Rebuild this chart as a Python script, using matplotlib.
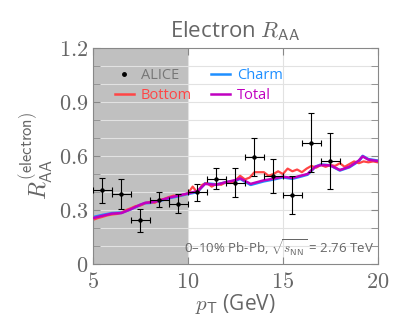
import matplotlib
matplotlib.use("Agg")
import matplotlib.pyplot as plt
import matplotlib.ticker as ticker
from matplotlib.lines import Line2D
import numpy as np

plt.rcParams['font.family'] = ['Open Sans', 'DejaVu Sans']
plt.rcParams['mathtext.fontset'] = 'cm'

# ALICE data
alice_pt = [5.5, 6.5, 7.5, 8.5, 9.5, 10.5, 11.5, 12.5, 13.5, 14.5, 15.5, 16.5, 17.5]
alice_raa = [0.41, 0.387, 0.243, 0.356, 0.335, 0.398, 0.474, 0.452, 0.593, 0.489, 0.383, 0.674, 0.574]
alice_yerr = [0.07, 0.083, 0.065, 0.042, 0.053, 0.046, 0.057, 0.079, 0.105, 0.094, 0.105, 0.164, 0.155]
alice_xerr = [0.5] * 13

# model curves
total_pt = [5.0, 5.5, 6.0, 6.5, 7.0, 7.5, 7.75, 8.0, 8.5, 9.0, 9.5, 10.0, 10.5, 10.9, 11.5,
            12.0, 12.5, 12.75, 13.0, 13.3, 14.0, 14.5, 15.0, 15.5, 16.0, 16.3, 16.7, 17.0,
            17.5, 18.0, 18.5, 19.0, 19.2, 19.5, 20.0]
total_raa = [0.255, 0.268, 0.280, 0.283, 0.305, 0.330, 0.340, 0.342, 0.352, 0.368, 0.380, 0.392,
             0.405, 0.445, 0.440, 0.455, 0.466, 0.476, 0.462, 0.445, 0.465, 0.474, 0.485, 0.478,
             0.492, 0.500, 0.540, 0.550, 0.548, 0.522, 0.540, 0.575, 0.598, 0.580, 0.572]
charm_raa = [0.260, 0.272, 0.282, 0.285, 0.305, 0.328, 0.338, 0.340, 0.350, 0.366, 0.377, 0.390,
             0.400, 0.448, 0.442, 0.453, 0.462, 0.474, 0.458, 0.440, 0.460, 0.470, 0.482, 0.474,
             0.488, 0.497, 0.540, 0.552, 0.548, 0.520, 0.538, 0.572, 0.600, 0.582, 0.574]
bottom_pt = [5.0, 5.25, 5.5, 5.75, 6.0, 6.25, 6.5, 6.75, 7.0, 7.25, 7.5, 7.75, 8.0, 8.25, 8.5,
             8.75, 9.0, 9.25, 9.5, 9.75, 10.0, 10.25, 10.5, 10.75, 11.0, 11.25, 11.5, 11.75,
             12.0, 12.25, 12.5, 12.75, 13.0, 13.25, 13.5, 13.75, 14.0, 14.25, 14.5, 14.75,
             15.0, 15.25, 15.5, 15.75, 16.0, 16.25, 16.5, 16.75, 17.0, 17.25, 17.5, 17.75,
             18.0, 18.25, 18.5, 18.75, 19.0, 19.25, 19.5, 19.75, 20.0]
bottom_raa = [0.245, 0.255, 0.262, 0.270, 0.275, 0.278, 0.285, 0.300, 0.310, 0.322, 0.325,
              0.338, 0.345, 0.340, 0.355, 0.362, 0.372, 0.380, 0.378, 0.385, 0.392, 0.430,
              0.395, 0.440, 0.450, 0.430, 0.445, 0.440, 0.455, 0.450, 0.465, 0.490, 0.470,
              0.480, 0.510, 0.510, 0.510, 0.490, 0.500, 0.515, 0.500, 0.530, 0.515, 0.525,
              0.510, 0.530, 0.545, 0.535, 0.550, 0.540, 0.550, 0.545, 0.560, 0.540, 0.555,
              0.570, 0.560, 0.570, 0.565, 0.570, 0.565]

gray = '#666666'
c_red, c_blue, c_mag = '#ff4545', '#1e8fff', '#c000c0'

fig = plt.figure(figsize=(3.94, 3.30), dpi=100)
ax = fig.add_axes([0.236, 0.2, 0.723, 0.6545])

ax.axvspan(5, 10, color='#c0c0c0', zorder=0, lw=0)
for y in np.arange(0.1, 1.2, 0.1):
    ax.axhline(y, color='#e2e2e2', lw=0.8, zorder=0.5)
for x in [10, 15]:
    ax.axvline(x, color='#e2e2e2', lw=0.8, zorder=0.5)

ax.plot(total_pt, charm_raa, color=c_blue, lw=2, zorder=2)
ax.plot(bottom_pt, bottom_raa, color=c_red, lw=1.6, zorder=2.5)
ax.plot(total_pt, total_raa, color=c_mag, lw=1.8, zorder=3)
ax.errorbar(alice_pt, alice_raa, xerr=alice_xerr, yerr=alice_yerr, fmt='o', color='black',
            ms=2.2, elinewidth=0.8, capsize=2, capthick=0.8, zorder=4)

ax.set_xlim(5, 20)
ax.set_ylim(0, 1.2)
ax.xaxis.set_major_locator(ticker.MultipleLocator(5))
ax.yaxis.set_major_locator(ticker.MultipleLocator(0.3))
ax.yaxis.set_minor_locator(ticker.MultipleLocator(0.1))
ax.xaxis.set_major_formatter(ticker.FuncFormatter(lambda v, p: '$%d$' % v))
ax.yaxis.set_major_formatter(ticker.FuncFormatter(lambda v, p: '$0$' if v == 0 else '$%.1f$' % v))
ax.tick_params(which='both', direction='in', top=True, right=True, colors='#888888',
               labelcolor=gray, labelsize=16, length=5)
ax.tick_params(axis='x', pad=6)
for s in ax.spines.values():
    s.set_color('#888888')

ax.set_title(r'Electron $R_{\mathsf{AA}}$', color=gray, fontsize=16, pad=8)
ax.set_xlabel(r'$p_{\mathsf{T}}$ (GeV)', color=gray, fontsize=15, labelpad=-1)
ax.set_ylabel(r'$R_{\mathsf{AA}}^{\mathsf{(electron)}}$', color=gray, fontsize=17, labelpad=2)

handles = [Line2D([], [], ls='none', marker='o', ms=2.5, color='black'),
           Line2D([], [], color=c_red, lw=1.8),
           Line2D([], [], color=c_blue, lw=1.8),
           Line2D([], [], color=c_mag, lw=1.8)]
leg = ax.legend(handles, ['ALICE', 'Bottom', 'Charm', 'Total'], ncol=2, frameon=False,
                loc='upper left', bbox_to_anchor=(0.03, 0.97), fontsize=10.5,
                handlelength=1.3, handletextpad=0.5, columnspacing=1.3, labelspacing=0.35)
for t, c in zip(leg.get_texts(), ['#777777', c_red, c_blue, c_mag]):
    t.set_color(c)

ax.text(19.8, 0.09, r'0–10% Pb-Pb, $\sqrt{s_{\mathsf{NN}}}$ = 2.76 TeV', color=gray,
        fontsize=9.5, ha='right', va='center')

fig.savefig('out.png', dpi=100)
